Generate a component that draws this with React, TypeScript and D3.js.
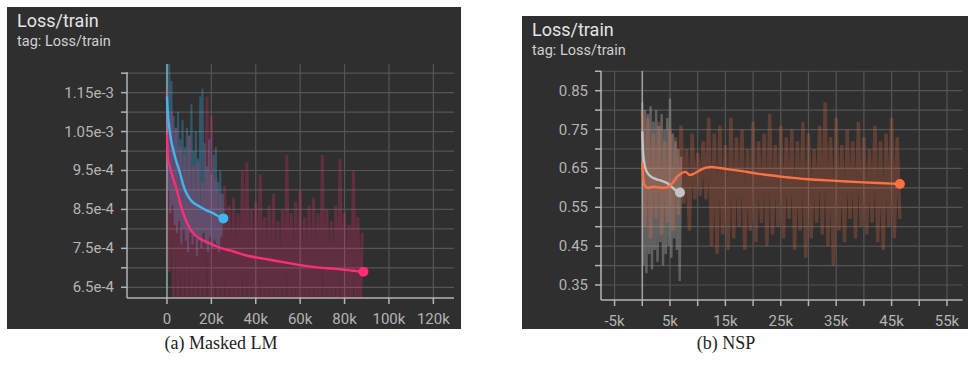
import React from 'react';
import * as d3 from 'd3';

// ---------- (a) Masked LM : loss values in units of 1e-4 ----------
const mlmGridY = [6.5, 7.0, 7.5, 8.0, 8.5, 9.0, 9.5, 10.0, 10.5, 11.0, 11.5, 12.0];
const mlmLabelY = [6.5, 7.5, 8.5, 9.5, 10.5, 11.5];
const mlmLabelYText = ['6.5e-4', '7.5e-4', '8.5e-4', '9.5e-4', '1.05e-3', '1.15e-3'];
const mlmGridX = [0, 20000, 40000, 60000, 80000, 100000, 120000];
const mlmLabelX = [0, 20000, 40000, 60000, 80000, 100000, 120000];
const mlmLabelXText = ['0', '20k', '40k', '60k', '80k', '100k', '120k'];

// raw (unsmoothed) logs, one value every rawStep steps
const mlmBlueRawStep = 500;
const mlmBlueRaw = [
  12.5, 9.0, 12.4, 8.4, 11.8, 8.6, 10.9, 8.1, 10.6, 7.9, 11.0, 8.2, 10.3, 7.6, 10.8, 8.0,
  10.1, 7.7, 10.6, 7.4, 10.4, 7.9, 11.2, 7.6, 10.0, 7.8, 10.5, 7.3, 9.8, 7.7, 11.4, 7.5,
  11.6, 7.9, 10.2, 7.6, 9.6, 7.4, 10.3, 7.8, 9.4, 7.5, 9.9, 7.7, 10.1, 7.6, 9.2, 7.4,
  9.5, 7.8, 8.9, 8.2,
];
const mlmPinkRawStep = 1000;
const mlmPinkRaw = [
  11.6, 6.9, 11.0, 5.8, 10.6, 5.7, 10.1, 5.6, 9.9, 5.7, 10.4, 5.6, 9.6, 5.8, 9.7, 5.6,
  9.2, 5.7, 11.4, 5.6, 10.9, 5.7, 9.3, 5.6, 8.9, 5.7, 9.1, 5.6, 8.6, 5.7, 8.8, 5.6,
  8.4, 5.7, 9.5, 5.6, 9.7, 5.7, 8.5, 5.6, 8.7, 5.7, 9.4, 5.6, 8.3, 5.7, 8.6, 5.6,
  8.9, 5.7, 8.2, 5.6, 8.5, 5.7, 9.9, 5.6, 8.4, 5.7, 8.7, 5.6, 9.0, 5.7, 8.3, 5.6,
  8.6, 5.7, 8.8, 5.6, 8.4, 5.7, 9.9, 5.6, 8.5, 5.7, 8.2, 5.6, 8.6, 5.7, 9.8, 5.6,
  8.4, 5.7, 8.1, 5.6, 9.5, 5.7, 8.3, 5.6, 7.9,
];
// smoothed curves: [step, value]
const mlmBlueSmooth: [number, number][] = [
  [0, 11.4], [250, 11.1], [1350, 10.47], [3600, 9.86], [5900, 9.43], [7500, 9.1],
  [8900, 8.9], [11000, 8.72], [14900, 8.57], [18000, 8.47], [20900, 8.4], [23000, 8.33],
  [25400, 8.27],
];
const mlmPinkSmooth: [number, number][] = [
  [0, 10.45], [400, 9.85], [1500, 9.55], [2800, 9.3], [4400, 9.0], [5900, 8.67],
  [8000, 8.3], [9500, 8.1], [11000, 7.95], [14000, 7.78], [18000, 7.66], [22000, 7.56],
  [26000, 7.48], [30000, 7.42], [35000, 7.33], [40000, 7.27], [45000, 7.22], [50000, 7.17],
  [55000, 7.12], [60000, 7.07], [65000, 7.03], [70000, 7.0], [75000, 6.98], [80000, 6.95],
  [85000, 6.92], [88500, 6.9],
];

// ---------- (b) NSP ----------
const nspGridY = [0.35, 0.4, 0.45, 0.5, 0.55, 0.6, 0.65, 0.7, 0.75, 0.8, 0.85, 0.9];
const nspLabelY = [0.35, 0.45, 0.55, 0.65, 0.75, 0.85];
const nspLabelYText = ['0.35', '0.45', '0.55', '0.65', '0.75', '0.85'];
const nspGridX = [-5000, 0, 5000, 10000, 15000, 20000, 25000, 30000, 35000, 40000, 45000, 50000, 55000];
const nspLabelX = [-5000, 5000, 15000, 25000, 35000, 45000, 55000];
const nspLabelXText = ['-5k', '5k', '15k', '25k', '35k', '45k', '55k'];

const nspGreyRawStep = 250;
const nspGreyRaw = [
  0.82, 0.40, 0.80, 0.38, 0.79, 0.43, 0.81, 0.39, 0.77, 0.44, 0.80, 0.41, 0.76, 0.46, 0.79,
  0.40, 0.75, 0.43, 0.78, 0.45, 0.83, 0.42, 0.74, 0.47, 0.72, 0.44, 0.70, 0.36, 0.68,
];
const nspOrangeRawStep = 500;
const nspOrangeRaw = [
  0.80, 0.50, 0.78, 0.47, 0.74, 0.52, 0.77, 0.48, 0.72, 0.51, 0.75, 0.49, 0.73, 0.53, 0.76,
  0.56, 0.70, 0.49, 0.74, 0.57, 0.69, 0.58, 0.72, 0.57, 0.78,
  0.45, 0.74, 0.43, 0.76, 0.48, 0.71, 0.44, 0.78, 0.47, 0.73, 0.50, 0.75, 0.44, 0.70, 0.49,
  0.77, 0.46, 0.72, 0.51, 0.74, 0.45, 0.79, 0.48, 0.71, 0.50, 0.76, 0.47, 0.73, 0.52, 0.75,
  0.44, 0.72, 0.49, 0.77, 0.42, 0.74, 0.47, 0.70, 0.51, 0.76, 0.48, 0.82, 0.45, 0.73, 0.40,
  0.78, 0.49, 0.71, 0.46, 0.75, 0.52, 0.72, 0.47, 0.77, 0.50, 0.73, 0.48, 0.70, 0.51, 0.76,
  0.46, 0.72, 0.44, 0.74, 0.50, 0.78, 0.47, 0.73, 0.52,
];
const nspGreySmooth: [number, number][] = [
  [0, 0.745], [150, 0.69], [400, 0.66], [800, 0.642], [1400, 0.631], [2600, 0.622],
  [3500, 0.618], [4400, 0.613], [5200, 0.604], [6000, 0.594], [6800, 0.588],
];
const nspOrangeSmooth: [number, number][] = [
  [0, 0.665], [150, 0.63], [400, 0.607], [1000, 0.6], [2000, 0.603], [3000, 0.601],
  [4000, 0.6], [4800, 0.603], [5500, 0.613], [6200, 0.627], [7000, 0.637], [7800, 0.641],
  [8600, 0.633], [9400, 0.637], [10400, 0.645], [11500, 0.652], [12500, 0.654], [14000, 0.651],
  [16000, 0.647], [18000, 0.643], [21000, 0.636], [25000, 0.629], [30000, 0.622],
  [35000, 0.618], [40000, 0.614], [45000, 0.611], [46500, 0.61],
];

const FONT = 'Roboto, "Noto Sans", sans-serif';

type Series = {
  raw: number[];
  rawStep: number;
  smooth: [number, number][];
  color: string;
  rawOpacity: number;
  rawWidth: number;
};

type PanelProps = {
  id: string;
  frame: { x: number; y: number; w: number; h: number };
  plot: { left: number; right: number; top: number; bottom: number; gridTop: number };
  xDomain: [number, number];
  yDomain: [number, number];
  gridX: number[];
  gridY: number[];
  labelX: number[];
  labelXText: string[];
  labelY: number[];
  labelYText: string[];
  series: Series[];
};

function Panel(p: PanelProps) {
  const { frame, plot } = p;
  const x = d3.scaleLinear().domain(p.xDomain).range([plot.left, plot.right]);
  const y = d3.scaleLinear().domain(p.yDomain).range([plot.bottom, plot.top]);
  const rawLine = d3.line<[number, number]>().x(d => x(d[0])).y(d => y(d[1]));
  const smoothLine = d3.line<[number, number]>().x(d => x(d[0])).y(d => y(d[1])).curve(d3.curveMonotoneX);
  const rawPts = (s: Series) => s.raw.map((v, i) => [i * s.rawStep, v] as [number, number]);
  const clipId = `clip-${p.id}`;
  const axisColor = '#b4b4b4';

  return (
    <g>
      <rect x={frame.x} y={frame.y} width={frame.w} height={frame.h} fill="#2f2f2f" />
      <text x={frame.x + 10} y={frame.y + 20} fill="#e4e4e4" fontSize={18} fontFamily={FONT}>Loss/train</text>
      <text x={frame.x + 10} y={frame.y + 39} fill="#d0d0d0" fontSize={14.5} fontFamily={FONT}>tag: Loss/train</text>

      <defs>
        <clipPath id={clipId}>
          <rect x={plot.left} y={plot.gridTop} width={plot.right - plot.left} height={plot.bottom - plot.gridTop} />
        </clipPath>
      </defs>

      {/* grid */}
      {p.gridY.map(v => (
        <line key={`gy${v}`} x1={plot.left} x2={plot.right} y1={y(v)} y2={y(v)} stroke="#555" strokeWidth={1.2} />
      ))}
      {p.gridX.map(v => (
        <line key={`gx${v}`} x1={x(v)} x2={x(v)} y1={plot.gridTop} y2={plot.bottom}
          stroke={v === 0 ? '#9aa0a4' : '#555'} strokeWidth={v === 0 ? 1.6 : 1.2} />
      ))}

      {/* data */}
      <g clipPath={`url(#${clipId})`}>
        {p.series.map((s, i) => (
          <path key={`r${i}`} d={rawLine(rawPts(s)) || ''} fill="none" stroke={s.color}
            strokeOpacity={s.rawOpacity} strokeWidth={s.rawWidth} strokeLinejoin="miter" strokeMiterlimit={2} />
        ))}
        {p.series.map((s, i) => (
          <path key={`s${i}`} d={smoothLine(s.smooth) || ''} fill="none" stroke={s.color}
            strokeWidth={2.4} strokeLinejoin="round" />
        ))}
      </g>
      {p.series.map((s, i) => {
        const last = s.smooth[s.smooth.length - 1];
        return <circle key={`c${i}`} cx={x(last[0])} cy={y(last[1])} r={5} fill={s.color} />;
      })}

      {/* axes */}
      <line x1={plot.left} x2={plot.left} y1={plot.top} y2={plot.bottom} stroke={axisColor} strokeWidth={1.5} />
      <line x1={plot.left} x2={plot.right} y1={plot.bottom} y2={plot.bottom} stroke={axisColor} strokeWidth={1.5} />
      {p.gridY.map(v => (
        <line key={`ty${v}`} x1={plot.left - 6} x2={plot.left} y1={y(v)} y2={y(v)} stroke={axisColor} strokeWidth={1.5} />
      ))}
      {p.gridX.map(v => (
        <line key={`tx${v}`} x1={x(v)} x2={x(v)} y1={plot.bottom} y2={plot.bottom + 6} stroke={axisColor} strokeWidth={1.5} />
      ))}
      {p.labelY.map((v, i) => (
        <text key={`ly${v}`} x={plot.left - 13} y={y(v) + 5} textAnchor="end" fill={axisColor}
          fontSize={15} fontFamily={FONT}>{p.labelYText[i]}</text>
      ))}
      {p.labelX.map((v, i) => (
        <text key={`lx${v}`} x={x(v)} y={plot.bottom + 26} textAnchor="middle" fill={axisColor}
          fontSize={15} fontFamily={FONT}>{p.labelXText[i]}</text>
      ))}
    </g>
  );
}

export default function App() {
  return (
    <svg width={969} height={366} style={{ position: 'absolute', left: 0, top: 0, background: '#fff' }}>
      <Panel
        id="mlm"
        frame={{ x: 7, y: 7, w: 454, h: 322 }}
        plot={{ left: 127, right: 454, top: 72, bottom: 298, gridTop: 64 }}
        xDomain={[-18000, 129300]}
        yDomain={[6.225, 12.03]}
        gridX={mlmGridX}
        gridY={mlmGridY}
        labelX={mlmLabelX}
        labelXText={mlmLabelXText}
        labelY={mlmLabelY}
        labelYText={mlmLabelYText}
        series={[
          { raw: mlmBlueRaw, rawStep: mlmBlueRawStep, smooth: mlmBlueSmooth, color: '#3fb6ef', rawOpacity: 0.3, rawWidth: 2 },
          { raw: mlmPinkRaw, rawStep: mlmPinkRawStep, smooth: mlmPinkSmooth, color: '#ff2d78', rawOpacity: 0.24, rawWidth: 3 },
        ]}
      />
      <Panel
        id="nsp"
        frame={{ x: 522, y: 16, w: 446, h: 313 }}
        plot={{ left: 601, right: 962.5, top: 71, bottom: 300, gridTop: 71 }}
        xDomain={[-7450, 57800]}
        yDomain={[0.3114, 0.9007]}
        gridX={nspGridX}
        gridY={nspGridY}
        labelX={nspLabelX}
        labelXText={nspLabelXText}
        labelY={nspLabelY}
        labelYText={nspLabelYText}
        series={[
          { raw: nspGreyRaw, rawStep: nspGreyRawStep, smooth: nspGreySmooth, color: '#c4c4c4', rawOpacity: 0.33, rawWidth: 2.4 },
          { raw: nspOrangeRaw, rawStep: nspOrangeRawStep, smooth: nspOrangeSmooth, color: '#ff7043', rawOpacity: 0.24, rawWidth: 3.4 },
        ]}
      />
      <text x={221} y={349} textAnchor="middle" fontSize={18} fontFamily='"Liberation Serif", serif' fill="#222">(a) Masked LM</text>
      <text x={726} y={349} textAnchor="middle" fontSize={18} fontFamily='"Liberation Serif", serif' fill="#222">(b) NSP</text>
    </svg>
  );
}
